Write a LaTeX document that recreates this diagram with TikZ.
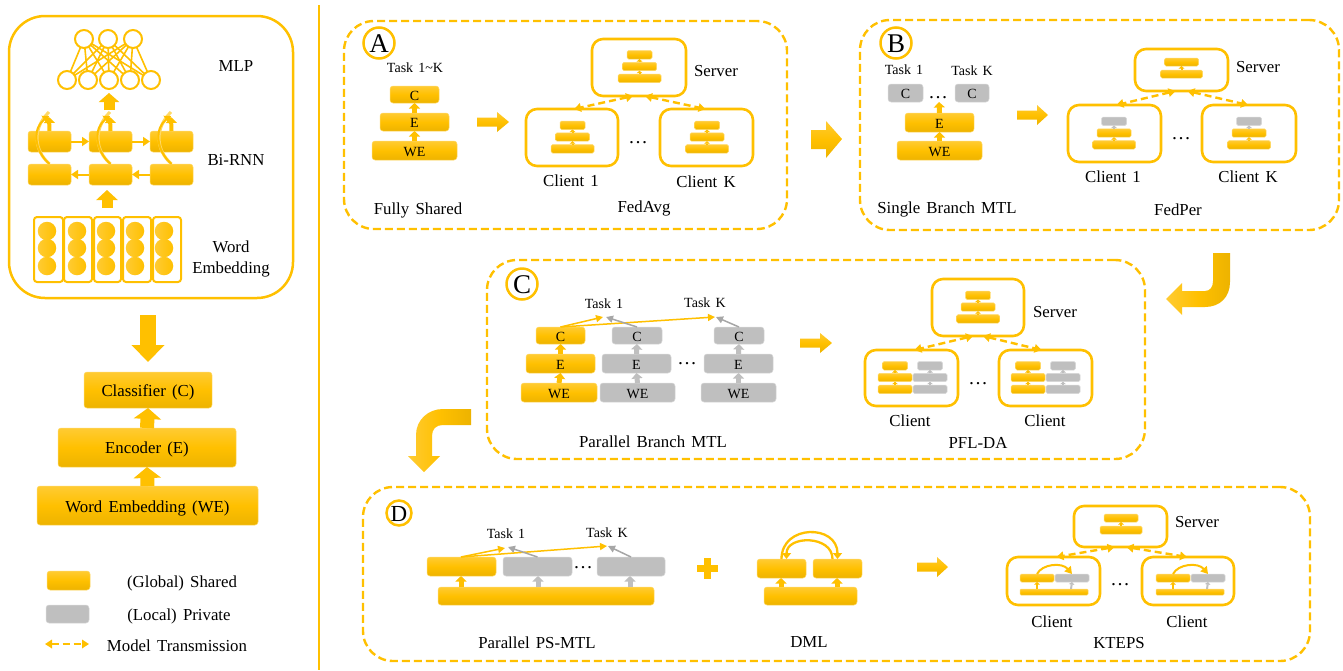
\documentclass[tikz,border=0pt]{standalone}
\usepackage{fontspec}
\setmainfont{Liberation Serif}
\usetikzlibrary{arrows.meta}
\definecolor{gd}{HTML}{FFC000}
\definecolor{gdl}{HTML}{FFCB33}
\definecolor{gdd}{HTML}{EDB300}
\definecolor{gdb}{HTML}{FFD966}
\definecolor{gy}{HTML}{BFBFBF}
\definecolor{gya}{HTML}{A6A6A6}
\definecolor{gyb}{HTML}{D9D9D9}
\newcommand{\sz}[1]{\fontsize{#1}{#1}\selectfont\spaceskip=.37em\relax}
\newcommand{\low}[2]{\raisebox{-#1pt}[\height][\depth]{#2}}
\tikzset{
  goldblk/.style={rectangle,rounded corners=3pt,draw=gdb,line width=0.5pt,top color=gdl,bottom color=gdd,middle color=gd,inner sep=0pt,outer sep=0pt,text=black,font=\sz{14}},
  grayblk/.style={rectangle,rounded corners=3pt,draw=gyb,line width=0.5pt,fill=gy,inner sep=0pt,outer sep=0pt,text=black,font=\sz{14}},
  bigtxt/.style={font=\sz{16.8}},
  dashbox/.style={rectangle,rounded corners=30pt,draw=gd,line width=2.4pt,dash pattern=on 8pt off 4pt,inner sep=0pt,outer sep=0pt},
  solidbox/.style={rectangle,rounded corners=11pt,draw=gd,line width=2.6pt,inner sep=0pt,outer sep=0pt},
  lab/.style={inner sep=0pt,outer sep=0pt,text=black,font=\sz{16.8},text height=11pt,text depth=1pt},
  dotlab/.style={inner sep=0pt,outer sep=0pt,text=black,font=\sz{19.5}},
  tasklab/.style={inner sep=0pt,outer sep=0pt,text=black,font=\sz{14},text height=9.5pt,text depth=0.5pt},
  circlab/.style={circle,draw=gd,line width=2.5pt,fill=white,inner sep=0pt,outer sep=0pt,text=black},
  xfer/.style={draw=gd,line width=2.4pt,dash pattern=on 7pt off 4pt,{Triangle[length=7pt,width=8.5pt]}-{Triangle[length=7pt,width=8.5pt]}},
  fatg/.style={draw=gd,line width=5pt,-{Triangle[length=5.5pt,width=11pt]}},
  fatt/.style={draw=gy,line width=5pt,-{Triangle[length=5.5pt,width=11pt]}},
  tinyg/.style={draw=gd,line width=2pt,-{Triangle[length=2.5pt,width=5.5pt]}},
  tinyy/.style={draw=gy,line width=2pt,-{Triangle[length=2.5pt,width=5.5pt]}},
  thing/.style={draw=gd,line width=1.5pt,-{Triangle[length=7pt,width=7pt]}},
  thiny/.style={draw=gya,line width=1.5pt,-{Triangle[length=7pt,width=7pt]}},
  curveg/.style={draw=gd,line width=2pt,-{Triangle[length=6pt,width=9pt]}},
  curvehalo/.style={draw=gdb,line width=3pt},
  neuron/.style={circle,draw=gd,line width=2pt,fill=white,minimum size=18pt,inner sep=0pt,outer sep=0pt},
  edgeline/.style={draw=gd,line width=1.6pt},
  ball/.style={circle,left color=gdl,right color=gd,minimum size=18.5pt,inner sep=0pt,outer sep=0pt},
  wordbox/.style={rectangle,rounded corners=3pt,draw=gd,line width=2pt,inner sep=0pt,outer sep=0pt},
  bigshade/.style={top color=gdl,bottom color=gdd,middle color=gd},
}
\newcommand{\blk}[7]{\node[#1,minimum width={(#5-(#3))*1pt},minimum height={(#6-(#4))*1pt}] (#2) at ({(#3+#5)/2},{(#4+#6)/2}) {\low{1.3}{#7}};}
% three-layer mini model
\newcommand{\mini}[7]{%
  \blk{#4,rounded corners=1.5pt}{#1-t}{#2-12.5}{#3-16}{#2+12.5}{#3-7.5}{}
  \blk{#5,rounded corners=1.5pt}{#1-m}{#2-17}{#3-4.2}{#2+17}{#3+4.2}{}
  \blk{#6,rounded corners=1.5pt}{#1-b}{#2-#7/2}{#3+7.6}{#2+#7/2}{#3+16}{}
}
\newcommand{\minitwo}[3]{%
  \blk{goldblk,rounded corners=1.5pt}{#1-t}{#2-17}{#3-10}{#2+17}{#3-2}{}
  \blk{goldblk,rounded corners=1.5pt}{#1-b}{#2-21}{#3+2}{#2+21}{#3+10}{}
  \draw[tinyg] (#1-b.north) -- (#1-t.south);
}
\newcommand{\rarr}[5]{% name x1 x2 y headstart : right-pointing block arrow
  \path[bigshade] (#2,#4-4.5) -- (#5,#4-4.5) -- (#5,#4-10) -- (#3,#4) -- (#5,#4+10) -- (#5,#4+4.5) -- (#2,#4+4.5) -- cycle;
}
\begin{document}
\begin{tikzpicture}[x=1pt,y=-1pt]
\useasboundingbox (0,0) rectangle (1343,670);
\path[fill=white] (0,0) rectangle (1343,670);
% ---- left panel
\blk{solidbox,rounded corners=36pt,line width=2.5pt}{encbox}{9}{16}{293}{298}{}
\draw[draw=gd,line width=2.5pt] (319,5) -- (319,670);
\foreach \i/\x in {1/84,2/108,3/133} \node[neuron] (mt\i) at (\x,39) {};
\foreach \i/\x in {1/67,2/88,3/109,4/130,5/151} \node[neuron] (mb\i) at (\x,80) {};
\foreach \i in {1,2,3} \foreach \j in {1,2,3,4,5} \draw[edgeline] (mt\i) -- (mb\j);
\foreach \i/\xa/\xb in {1/28/71,2/89/132,3/150/193} {
  \blk{goldblk}{rt\i}{\xa}{131}{\xb}{152}{}
  \blk{goldblk}{rb\i}{\xa}{164}{\xb}{185}{}
}
\draw[draw=gd,line width=2pt,-{Triangle[length=7pt,width=9pt]}] (rt1.east) -- (rt2.west);
\draw[draw=gd,line width=2pt,-{Triangle[length=7pt,width=9pt]}] (rt2.east) -- (rt3.west);
\draw[draw=gd,line width=2pt,-{Triangle[length=7pt,width=9pt]}] (rb2.west) -- (rb1.east);
\draw[draw=gd,line width=2pt,-{Triangle[length=7pt,width=9pt]}] (rb3.west) -- (rb2.east);
\foreach \i/\x in {1/49,2/110,3/171} {
  \coordinate (rtip\i) at (\x,117);
  \draw[draw=gd,line width=4pt,-{Triangle[length=6pt,width=11pt]}] (rt\i.north) -- (rtip\i);
  \draw[curvehalo] (rb\i.north) .. controls ([shift={(-16,-14)}]rb\i.north) and ([shift={(-17,-36)}]rb\i.north) .. ([shift={(0,-5)}]rtip\i);
  \draw[curveg] (rb\i.north) .. controls ([shift={(-16,-14)}]rb\i.north) and ([shift={(-17,-36)}]rb\i.north) .. ([shift={(0,-1)}]rtip\i);
}
\coordinate (uparra) at (109,110); \coordinate (uparrb) at (109,93);
\draw[draw=gd,line width=11pt,-{Triangle[length=9pt,width=20pt]}] (uparra) -- (uparrb);
\coordinate (uparrc) at (107,208); \coordinate (uparrd) at (107,190);
\draw[draw=gd,line width=11pt,-{Triangle[length=10pt,width=21pt]}] (uparrc) -- (uparrd);
\foreach \i/\xa/\xb/\c in {1/34/63/47,2/64/92/77,3/94/121/106,4/123/151/135,5/153/181/164} {
  \blk{wordbox}{wb\i}{\xa}{217}{\xb}{282}{}
  \node[ball] (wba\i) at (\c,231) {};
  \node[ball] (wbb\i) at (\c,248) {};
  \node[ball] (wbc\i) at (\c,266) {};
}
\node[lab] (lmlp) at (236,66) {MLP};
\node[lab] (lrnn) at (236,160) {Bi-RNN};
\node[lab] (lword) at (231,247) {Word};
\node[lab] (lemb) at (231,268) {Embedding};
\coordinate (dna) at (148,315); \coordinate (dnb) at (148,362);
\draw[draw=gd,line width=16pt,-{Triangle[length=17pt,width=32pt]}] (dna) -- (dnb);
\blk{goldblk,bigtxt}{mc}{84}{372}{212}{408}{\low{1}{Classifier (C)}}
\blk{goldblk,bigtxt}{me}{58}{428}{236}{467}{\low{1}{Encoder (E)}}
\blk{goldblk,bigtxt}{mw}{37}{486}{258}{525}{\low{1.5}{Word Embedding (WE)}}
\draw[draw=gd,line width=14pt,-{Triangle[length=11pt,width=27pt]}] (me.north) -- (mc.south);
\draw[draw=gd,line width=14pt,-{Triangle[length=11pt,width=27pt]}] (mw.north) -- (me.south);
\blk{goldblk}{legg}{47}{571}{90}{590}{}
\blk{grayblk}{legy}{46}{605}{89}{623}{}
\coordinate (lega) at (45,644); \coordinate (legb) at (89,644);
\draw[xfer] (lega) -- (legb);
\node[lab] (lg) at (182,582) {(Global) Shared};
\node[lab] (ly) at (179,615) {(Local) Private};
\node[lab] (lt) at (177,646) {Model Transmission};
% ---- panel A
\blk{dashbox}{pa}{344}{21}{787}{229}{}
\node[circlab,minimum size=31pt,font=\sz{27}] (ca) at (379,43) {\low{1}{A}};
\node[tasklab] (ta) at (415,68) {Task 1\textasciitilde K};
\blk{goldblk}{ac}{390}{86}{439}{103}{C}
\blk{goldblk}{ae}{380}{113}{449}{131}{E}
\blk{goldblk}{aw}{372}{141}{457}{160}{WE}
\draw[fatg] (ae.north) -- (ac.south);
\draw[fatg] (aw.north) -- (ae.south);
\rarr{ara}{477}{509}{122}{497}
\blk{solidbox}{as}{592}{39}{686}{96}{}
\blk{solidbox}{a1}{526}{109}{618}{166}{}
\blk{solidbox}{ak}{660}{109}{753}{166}{}
\mini{ams}{639.5}{66.5}{goldblk}{goldblk}{goldblk}{43}
\draw[tinyg] (ams-m.north) -- (ams-t.south); \draw[tinyg] (ams-b.north) -- (ams-m.south);
\mini{am1}{572.5}{137}{goldblk}{goldblk}{goldblk}{43}
\draw[tinyg] (am1-m.north) -- (am1-t.south); \draw[tinyg] (am1-b.north) -- (am1-m.south);
\mini{amk}{707}{137}{goldblk}{goldblk}{goldblk}{43}
\draw[tinyg] (amk-m.north) -- (amk-t.south); \draw[tinyg] (amk-b.north) -- (amk-m.south);
\draw[xfer] ([xshift=-6pt]as.south) -- ([xshift=2pt]a1.north);
\draw[xfer] ([xshift=6pt]as.south) -- ([xshift=-1pt]ak.north);
\node[lab] (asl) at (716,71) {Server};
\node[lab] (a1l) at (571,181) {Client 1};
\node[lab] (akl) at (706,182) {Client K};
\node[lab] (afs) at (418,209) {Fully Shared};
\node[lab] (afa) at (644,207) {FedAvg};
\node[dotlab] (ad) at (638,143) {\ldots};
% A to B
\path[bigshade] (811,130) -- (826,130) -- (826,121) -- (842,139) -- (826,158) -- (826,149) -- (811,149) -- cycle;
% ---- panel B
\blk{dashbox}{pb}{860}{20}{1339}{230}{}
\node[circlab,minimum size=31pt,font=\sz{27}] (cb) at (896,43) {\low{1}{B}};
\node[tasklab] (tb1) at (904,70) {Task 1};
\node[tasklab] (tbk) at (972,71) {Task K};
\blk{grayblk}{bc1}{888}{84}{923}{102}{C}
\blk{grayblk}{bck}{955}{84}{989}{102}{C}
\node[dotlab] (bd0) at (938,98) {\ldots};
\blk{goldblk}{be}{905}{113}{974}{132}{E}
\blk{goldblk}{bw}{897}{141}{982}{160}{WE}
\coordinate (btip) at (939,102);
\draw[fatg] (be.north) -- (btip);
\draw[fatg] (bw.north) -- (be.south);
\rarr{brb}{1017}{1048}{115}{1037}
\blk{solidbox}{bs}{1135}{49}{1228}{91}{}
\blk{solidbox}{b1}{1068}{105}{1161}{162}{}
\blk{solidbox}{bk}{1202}{105}{1296}{162}{}
\minitwo{bms}{1181.5}{68}
\mini{bm1}{1114}{133}{grayblk}{goldblk}{goldblk}{43}
\draw[tinyy] (bm1-m.north) -- (bm1-t.south); \draw[tinyg] (bm1-b.north) -- (bm1-m.south);
\mini{bmk}{1249}{133}{grayblk}{goldblk}{goldblk}{43}
\draw[tinyy] (bmk-m.north) -- (bmk-t.south); \draw[tinyg] (bmk-b.north) -- (bmk-m.south);
\draw[xfer] ([xshift=-6pt]bs.south) -- ([xshift=2pt]b1.north);
\draw[xfer] ([xshift=6pt]bs.south) -- ([xshift=-1pt]bk.north);
\node[lab] (bsl) at (1258,67) {Server};
\node[lab] (b1l) at (1113,177) {Client 1};
\node[lab] (bkl) at (1248,177) {Client K};
\node[lab] (bsb) at (947,208) {Single Branch MTL};
\node[lab] (bfp) at (1178,210) {FedPer};
\node[dotlab] (bd) at (1181,139) {\ldots};
% B to C
\path[left color=gdl,right color=gdd,middle color=gd] (1213,253) -- (1213,281) .. controls (1213,287) and (1210,291) .. (1205,291) -- (1182,291) -- (1182,283) -- (1166,299) -- (1182,315) -- (1182,307) -- (1205,307) .. controls (1220,307) and (1230,297) .. (1230,282) -- (1230,253) -- cycle;
% ---- panel C
\blk{dashbox}{pc}{487}{260}{1145}{459}{}
\node[circlab,minimum size=31pt,font=\sz{27}] (cc) at (522,284) {\low{1}{C}};
\node[tasklab] (tc1) at (604,304) {Task 1};
\node[tasklab] (tck) at (705,303) {Task K};
\blk{goldblk}{cc1}{536}{327}{585}{344}{C}
\blk{goldblk}{ce1}{526}{354}{595}{373}{E}
\blk{goldblk}{cw1}{521}{383}{597}{402}{WE}
\blk{grayblk}{cc2}{612}{327}{662}{344}{C}
\blk{grayblk}{ce2}{602}{354}{671}{373}{E}
\blk{grayblk}{cw2}{600}{383}{675}{402}{WE}
\blk{grayblk}{cc3}{714}{327}{764}{344}{C}
\blk{grayblk}{ce3}{704}{354}{773}{373}{E}
\blk{grayblk}{cw3}{701}{383}{776}{402}{WE}
\draw[fatg] (ce1.north) -- (cc1.south); \draw[fatg] (cw1.north) -- (ce1.south);
\draw[fatt] (ce2.north) -- (cc2.south); \draw[fatt] (cw2.north) -- (ce2.south);
\draw[fatt] (ce3.north) -- (cc3.south); \draw[fatt] (cw3.north) -- (ce3.south);
\coordinate (ct1a) at (603,317); \coordinate (ct1b) at (606,317);
\coordinate (ctka) at (715,317); \coordinate (ctkb) at (716,317);
\draw[thing] (cc1.north) -- (ct1a);
\draw[thing] (cc1.north) -- (ctka);
\draw[thiny] (cc2.north) -- (ct1b);
\draw[thiny] (cc3.north) -- (ctkb);
\node[dotlab] (cd0) at (687,364) {\ldots};
\node[lab] (cpb) at (653,442) {Parallel Branch MTL};
\rarr{crc}{800}{832}{343}{820}
\blk{solidbox}{cs}{932}{279}{1024}{336}{}
\blk{solidbox}{c1}{865}{350}{958}{406}{}
\blk{solidbox}{ck}{999}{350}{1092}{406}{}
\mini{cms}{978}{307}{goldblk}{goldblk}{goldblk}{43}
\draw[tinyg] (cms-m.north) -- (cms-t.south); \draw[tinyg] (cms-b.north) -- (cms-m.south);
\foreach \p/\g/\y in {a/895/930,b/1028/1063} {
  \mini{cg\p}{\g}{377.5}{goldblk}{goldblk}{goldblk}{34}
  \draw[tinyg] (cg\p-m.north) -- (cg\p-t.south); \draw[tinyg] (cg\p-b.north) -- (cg\p-m.south);
  \mini{cy\p}{\y}{377.5}{grayblk}{grayblk}{grayblk}{34}
  \draw[tinyy] (cy\p-m.north) -- (cy\p-t.south); \draw[tinyy] (cy\p-b.north) -- (cy\p-m.south);
}
\draw[xfer] ([xshift=-5pt]cs.south) -- ([xshift=3pt]c1.north);
\draw[xfer] ([xshift=5pt]cs.south) -- ([xshift=-4pt]ck.north);
\node[lab] (csl) at (1055,312) {Server};
\node[lab] (c1l) at (910,421) {Client};
\node[lab] (ckl) at (1045,421) {Client};
\node[lab] (cpf) at (978,443) {PFL-DA};
\node[dotlab] (cd) at (978,384) {\ldots};
% C to D
\path[left color=gdl,right color=gdd,middle color=gd] (471,409) -- (443,409) .. controls (428,409) and (416,420) .. (416,435) -- (416,456) -- (408,456) -- (424,472) -- (440,456) -- (432,456) -- (432,436) .. controls (432,429) and (436,425) .. (443,425) -- (471,425) -- cycle;
% ---- panel D
\blk{dashbox}{pd}{363}{487}{1310}{661}{}
\node[circlab,minimum size=25pt,font=\sz{23}] (cdl) at (399,513) {\low{1}{D}};
\node[tasklab] (td1) at (506,534) {Task 1};
\node[tasklab] (tdk) at (607,533) {Task K};
\blk{goldblk}{dg}{427}{557}{496}{576}{}
\blk{grayblk}{dy1}{503}{557}{572}{576}{}
\blk{grayblk}{dy2}{597}{557}{665}{576}{}
\blk{goldblk}{db}{438}{587}{654}{605}{}
\coordinate (db1) at (461,587); \coordinate (dt1) at (461,576);
\coordinate (db2) at (538,587); \coordinate (dt2) at (538,576);
\coordinate (db3) at (630,587); \coordinate (dt3) at (630,576);
\draw[fatg] (db1) -- (dt1);
\draw[fatt] (db2) -- (dt2);
\draw[fatt] (db3) -- (dt3);
\coordinate (dtga) at (505,548); \coordinate (dtgb) at (607,546);
\coordinate (dtya) at (508,547); \coordinate (dtyb) at (608,546);
\draw[thing] ([xshift=-0.5pt]dg.north) -- (dtga);
\draw[thing] ([xshift=-0.5pt]dg.north) -- (dtgb);
\draw[thiny] (dy1.north) -- (dtya);
\draw[thiny] (dy2.north) -- (dtyb);
\node[dotlab] (dd0) at (583,568) {\ldots};
\node[lab] (dpp) at (537,643) {Parallel PS-MTL};
\fill[gd] (703.5,557.5) rectangle (710.5,578.5);
\fill[gd] (696.5,564.5) rectangle (717.5,571.5);
\blk{goldblk}{dl}{757}{559}{806}{578}{}
\blk{goldblk}{dr}{813}{559}{862}{578}{}
\blk{goldblk}{dbb}{764}{587}{857}{605}{}
\coordinate (dbb1) at (781,587); \coordinate (dbb2) at (837,587);
\coordinate (dlb) at (781,578); \coordinate (drb) at (837,578);
\draw[fatg] (dbb1) -- (dlb);
\draw[fatg] (dbb2) -- (drb);
\draw[curveg,line width=2.3pt] (dl.north) .. controls ([shift={(0,-35)}]dl.north) and ([shift={(0,-35)}]dr.north) .. (dr.north);
\draw[curveg,line width=2.3pt] ([xshift=-5pt]dr.north) .. controls ([shift={(-5,-24)}]dr.north) and ([shift={(5,-24)}]dl.north) .. ([xshift=5pt]dl.north);
\node[lab] (ddm) at (809,642) {DML};
\rarr{drd}{917}{948}{567}{937}
\blk{solidbox,rounded corners=10pt}{ds}{1074}{506}{1167}{547}{}
\blk{solidbox}{d1}{1007}{557}{1100}{605}{}
\blk{solidbox}{dk}{1142}{557}{1234}{605}{}
\minitwo{dms}{1121}{524}
\foreach \p/\xa/\xb/\xc in {a/1020/1054/1088,b/1156/1190/1224} {
  \blk{goldblk,rounded corners=1.5pt}{kg\p}{\xa}{574}{\xb}{582}{}
  \blk{grayblk,rounded corners=1.5pt}{ky\p}{\xb+1}{574}{\xc+1}{582}{}
  \blk{goldblk,rounded corners=1pt}{kb\p}{\xa}{589}{\xc}{595}{}
  \coordinate (kga\p) at ({(\xa+\xb)/2},589);
  \coordinate (kya\p) at ({(\xb+\xc)/2},589);
  \draw[tinyg] (kga\p) -- (kg\p.south);
  \draw[tinyy] (kya\p) -- (ky\p.south);
  \draw[curveg,-{Triangle[length=7pt,width=8pt]}] (kg\p.north) .. controls ([shift={(5,-10)}]kg\p.north) and ([shift={(-10,-12)}]ky\p.north) .. (ky\p.north);
}
\draw[xfer] ([xshift=-6pt]ds.south) -- ([xshift=3pt]d1.north);
\draw[xfer] ([xshift=6pt]ds.south) -- ([xshift=-1pt]dk.north);
\node[lab] (dsl) at (1197,522) {Server};
\node[lab] (d1l) at (1052,622) {Client};
\node[lab] (dkl) at (1187,622) {Client};
\node[lab] (dke) at (1119,643) {KTEPS};
\node[dotlab] (dd) at (1120,585) {\ldots};
\end{tikzpicture}
\end{document}
